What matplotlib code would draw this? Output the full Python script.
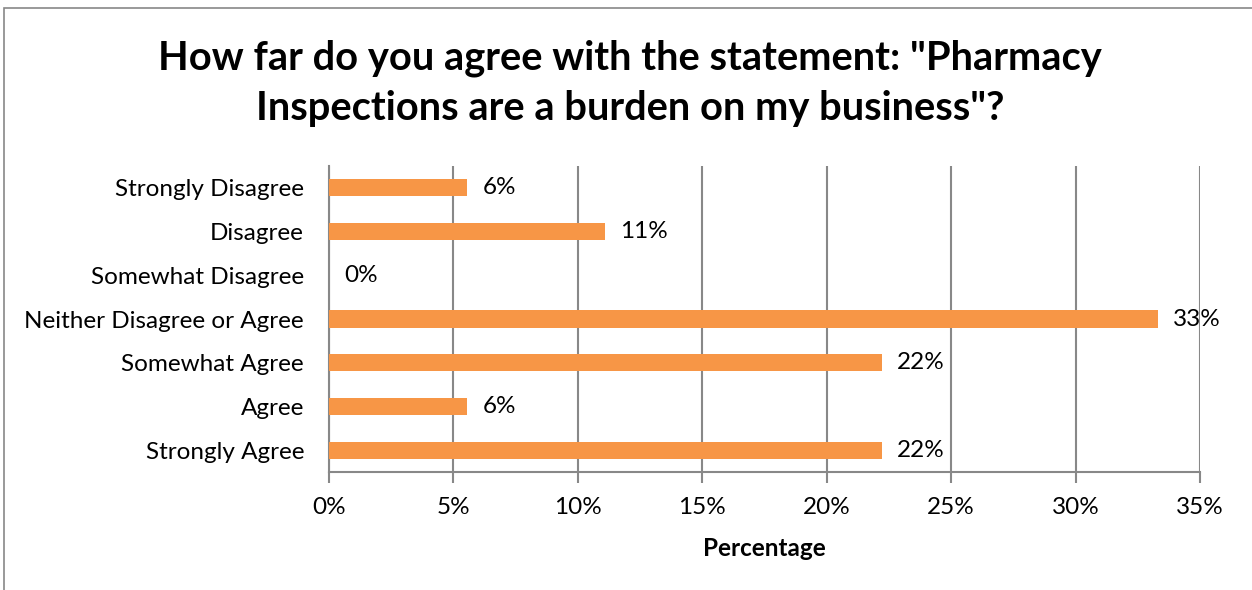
import matplotlib
matplotlib.use("Agg")
import matplotlib.pyplot as plt
from matplotlib.patches import Rectangle
from matplotlib.ticker import FuncFormatter, MultipleLocator

categories = ["Strongly Disagree", "Disagree", "Somewhat Disagree",
              "Neither Disagree or Agree", "Somewhat Agree", "Agree", "Strongly Agree"]
values = [5.56, 11.11, 0.0, 33.33, 22.22, 5.56, 22.22]
labels = ["6%", "11%", "0%", "33%", "22%", "6%", "22%"]
title = 'How far do you agree with the statement: "Pharmacy\nInspections are a burden on my business"?'
xlabel = "Percentage"

plt.rcParams['font.family'] = ['Lato', 'DejaVu Sans']

W, H = 1252, 590
fs = 17.5
fig = plt.figure(figsize=(W/100, H/100), dpi=100)
ax = fig.add_axes([329/W, 1-472/H, (1200-329)/W, (472-166)/H])

y = list(range(len(categories)))
ax.barh(y, values, height=0.39, color="#F79646", zorder=3)
for yi, v, lab in zip(y, values, labels):
    ax.text(v + 0.6, yi, lab, va="center", ha="left", fontsize=fs, color="black", zorder=4)

ax.set_ylim(len(categories)-0.5, -0.5)
ax.set_xlim(0, 35)
ax.xaxis.set_major_locator(MultipleLocator(5))
ax.xaxis.set_major_formatter(FuncFormatter(lambda v, p: f"{v:.0f}%"))
ax.set_yticks(y)
ax.set_yticklabels(categories, fontsize=fs)
ax.tick_params(axis="x", labelsize=fs, length=8, color="#888888", width=1.5, pad=10)
ax.tick_params(axis="y", length=0, pad=18)
ax.grid(axis="x", color="#888888", linewidth=1.5, zorder=0)
for s in ["top", "right"]:
    ax.spines[s].set_visible(False)
for s in ["left", "bottom"]:
    ax.spines[s].set_color("#888888")
    ax.spines[s].set_linewidth(1.5)
ax.set_xlabel(xlabel, fontsize=fs, fontweight="bold", labelpad=14)

fig.text(0.5 + 4/W, 1-83/H, title, ha="center", va="center", fontsize=28.7,
         fontweight="bold", linespacing=1.42)

fig.patches.append(Rectangle((4/W, -0.1), 1.2, 1-8/H+0.1, transform=fig.transFigure,
                             fill=False, edgecolor="#888888", linewidth=1.2))

fig.savefig("out.png", dpi=100, facecolor="white")
